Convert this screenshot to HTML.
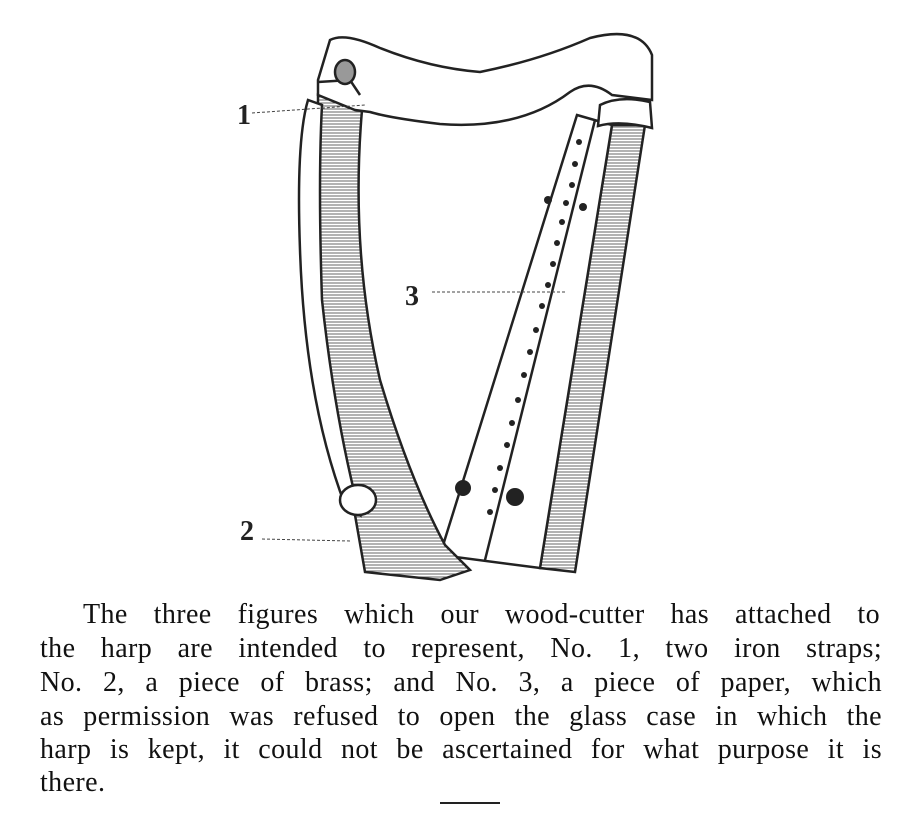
<!DOCTYPE html>
<html><head><style>
body{margin:0;background:#fff;width:902px;height:816px;overflow:hidden;position:relative;font-family:"Liberation Serif",serif;}
.l{position:absolute;left:40px;width:842px;font-size:28px;letter-spacing:0.4px;line-height:33px;color:#111;text-align:justify;text-align-last:justify;white-space:nowrap;}
</style></head><body>
<svg width="902" height="600" style="position:absolute;left:0;top:0">
<defs>
<pattern id="h" width="4" height="3" patternUnits="userSpaceOnUse"><rect width="4" height="3" fill="#fff"/><line x1="0" y1="1" x2="4" y2="1" stroke="#666" stroke-width="1"/></pattern>
</defs>
<g stroke="#222" stroke-width="2.5" fill="none">
<path d="M612,125 L645,125 L575,572 L540,568 Z" fill="url(#h)"/>
<path d="M577,115 L612,125 L540,568 L440,555 Z" fill="#fff"/>
<line x1="595" y1="120" x2="485" y2="560"/>
<path d="M318,95 L362,110 Q350,250 380,380 Q410,480 445,545 L470,570 L440,580 L365,572 L355,515 Q330,450 320,300 Q318,180 318,95 Z" fill="url(#h)"/>
<path d="M308,100 Q296,140 300,250 Q305,400 345,505 L360,515 Q335,420 322,300 Q318,180 322,105 Z" fill="#fff"/>
<ellipse cx="358" cy="500" rx="18" ry="15" fill="#fff"/>
<path d="M318,80 L330,40 Q345,32 380,48 Q430,68 480,72 Q540,60 590,38 Q640,25 652,55 L652,100 L612,95 Q590,78 570,92 Q520,130 440,124 Q390,118 370,112 L355,110 L318,95 Z" fill="#fff"/>
<path d="M318,82 L350,80 L360,95" />
<ellipse cx="345" cy="72" rx="10" ry="12" fill="#999"/>
<path d="M600,105 Q620,95 650,102 L652,128 Q620,120 598,126 Z" fill="#fff"/>
</g>
<g fill="#222">
<circle cx="579" cy="142" r="3"/><circle cx="575" cy="164" r="3"/><circle cx="572" cy="185" r="3"/><circle cx="548" cy="200" r="4"/><circle cx="566" cy="203" r="3"/><circle cx="583" cy="207" r="4"/>
<circle cx="562" cy="222" r="3"/><circle cx="557" cy="243" r="3"/><circle cx="553" cy="264" r="3"/><circle cx="548" cy="285" r="3"/><circle cx="542" cy="306" r="3"/><circle cx="536" cy="330" r="3"/><circle cx="530" cy="352" r="3"/><circle cx="524" cy="375" r="3"/><circle cx="518" cy="400" r="3"/><circle cx="512" cy="423" r="3"/><circle cx="507" cy="445" r="3"/>
<circle cx="500" cy="468" r="3"/><circle cx="495" cy="490" r="3"/><circle cx="490" cy="512" r="3"/>
<circle cx="463" cy="488" r="8"/><circle cx="515" cy="497" r="9"/>
<g font-family="Liberation Serif" font-size="28" font-weight="bold">
<text x="237" y="124">1</text><text x="405" y="305">3</text><text x="240" y="540">2</text>
</g>
</g>
<g stroke="#444" stroke-width="1" stroke-dasharray="3,2">
<line x1="252" y1="113" x2="365" y2="105"/>
<line x1="432" y1="292" x2="565" y2="292"/>
<line x1="262" y1="539" x2="350" y2="541"/>
</g>
</svg>
<div class="l" style="top:598px;left:83px;width:797px">The three figures which our wood-cutter has attached to</div>
<div class="l" style="top:632px">the harp are intended to represent, No. 1, two iron straps;</div>
<div class="l" style="top:666px">No. 2, a piece of brass; and No. 3, a piece of paper, which</div>
<div class="l" style="top:700px">as permission was refused to open the glass case in which the</div>
<div class="l" style="top:733px">harp is kept, it could not be ascertained for what purpose it is</div>
<div class="l" style="top:766px;text-align-last:left">there.</div>
<div style="position:absolute;left:440px;top:802px;width:60px;height:2px;background:#222"></div>
</body></html>
